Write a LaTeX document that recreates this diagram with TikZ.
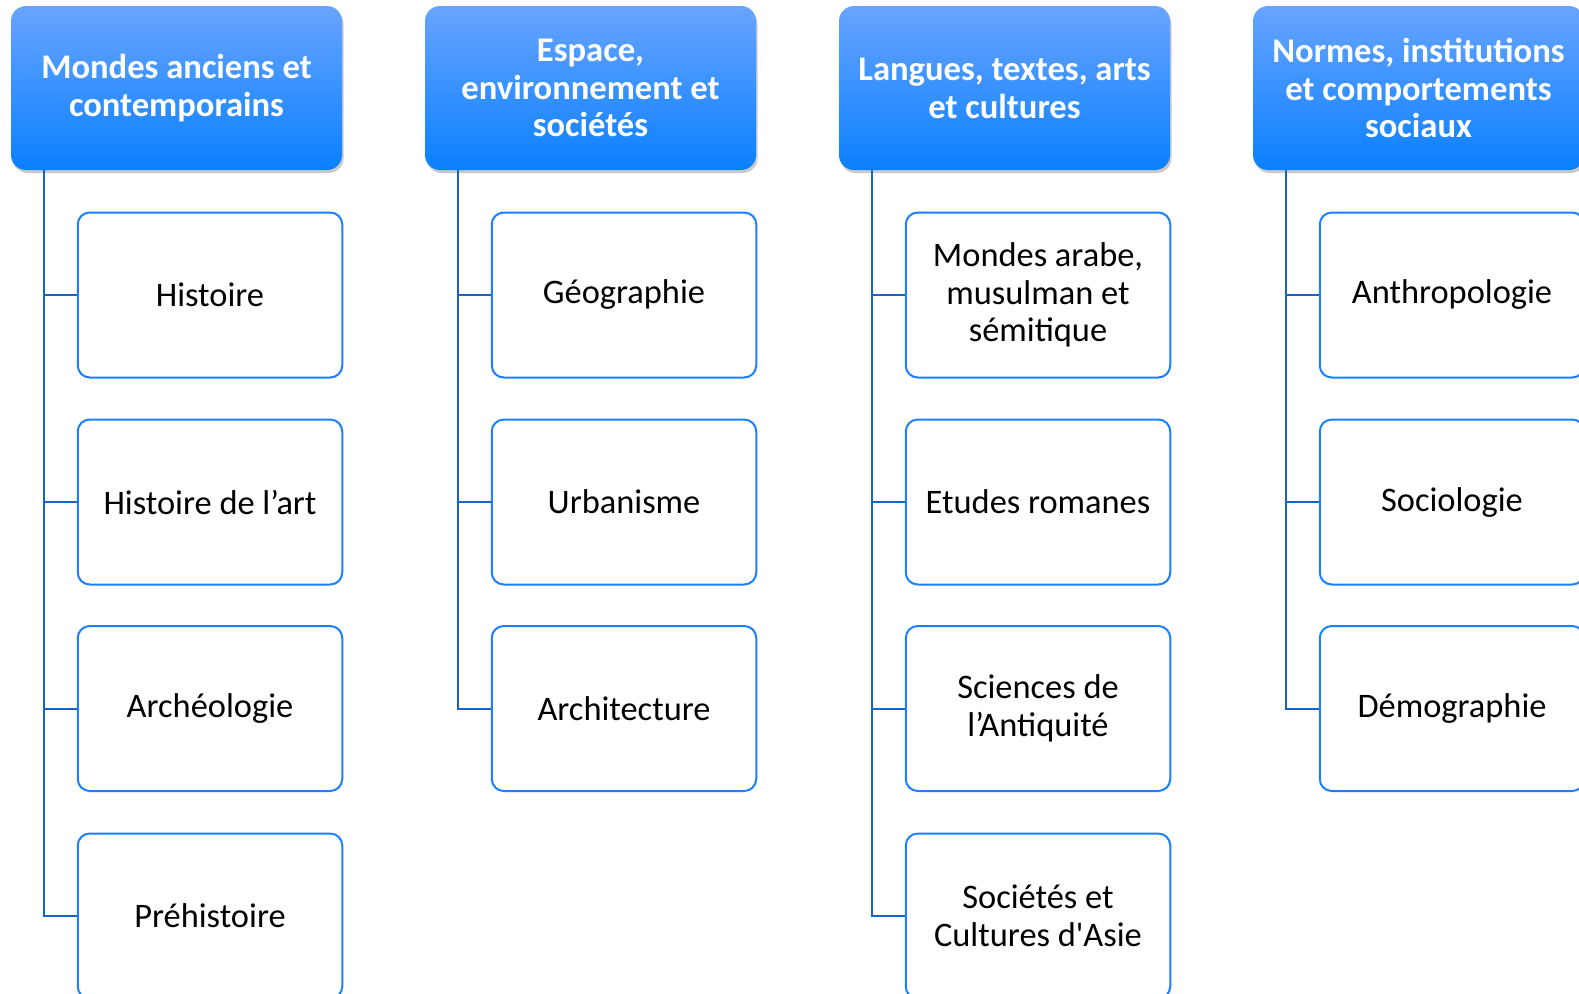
\documentclass[tikz,border=0pt]{standalone}
\usepackage{fontspec}
\setmainfont{Carlito}[Ligatures=TeXOff]
\usetikzlibrary{shadows,calc}
\definecolor{htop}{RGB}{104,164,255}
\definecolor{hbot}{RGB}{10,128,255}
\definecolor{cborder}{RGB}{26,128,255}
\definecolor{conncol}{RGB}{22,100,200}
\tikzset{
  head/.style={rounded corners=7.5pt, top color=htop, bottom color=hbot, draw=none,
    minimum width=165.5pt, minimum height=82pt, inner sep=0pt, align=center,
    text=white, font=\fontsize{17.3}{18.9}\selectfont\bfseries,
    drop shadow={opacity=0.3, shadow xshift=0.8pt, shadow yshift=-1.5pt, fill=black!70}},
  child/.style={rounded corners=6pt, draw=cborder, line width=1pt, fill=white,
    minimum width=132.25pt, minimum height=82.5pt, inner sep=0pt, align=center,
    font=\fontsize{17.2}{18.9}\selectfont},
  conn/.style={draw=conncol, line width=1pt}
}
\begin{document}
\begin{tikzpicture}[x=0.5pt,y=-0.5pt]
\useasboundingbox (0,0) rectangle (1579,993);
% headers
\node[head] (h1) at (176.5,88) {Mondes anciens et\\contemporains};
\node[head] (h2) at (590.5,88) {Espace,\\environnement et\\sociétés};
\node[head] (h3) at (1004.5,88) {Langues, textes, arts\\et cultures};
\node[head] (h4) at (1418.5,88) {Normes, institutions\\et comportements\\sociaux};
% children column 1
\node[child] (c11) at (210,295) {Histoire};
\node[child] (c12) at (210,502) {Histoire de l’art};
\node[child] (c13) at (210,708.5) {Archéologie};
\node[child] (c14) at (210,916) {Préhistoire};
% column 2
\node[child] (c21) at (624,295) {Géographie};
\node[child] (c22) at (624,502) {Urbanisme};
\node[child] (c23) at (624,708.5) {Architecture};
% column 3
\node[child] (c31) at (1038,295) {Mondes arabe,\\musulman et\\sémitique};
\node[child] (c32) at (1038,502) {Etudes romanes};
\node[child] (c33) at (1038,708.5) {Sciences de\\l’Antiquité};
\node[child] (c34) at (1038,916) {Sociétés et\\Cultures d'Asie};
% column 4
\node[child] (c41) at (1452,295) {Anthropologie};
\node[child] (c42) at (1452,502) {Sociologie};
\node[child] (c43) at (1452,708.5) {Démographie};
% trunk coordinates
\coordinate (t1) at ($(h1.south west)+(33,0)$);
\coordinate (t2) at ($(h2.south west)+(33,0)$);
\coordinate (t3) at ($(h3.south west)+(33,0)$);
\coordinate (t4) at ($(h4.south west)+(33,0)$);
% connectors
\draw[conn] (t1) |- (c14.west);
\draw[conn] (t1 |- c11.west) -- (c11.west);
\draw[conn] (t1 |- c12.west) -- (c12.west);
\draw[conn] (t1 |- c13.west) -- (c13.west);
\draw[conn] (t2) |- (c23.west);
\draw[conn] (t2 |- c21.west) -- (c21.west);
\draw[conn] (t2 |- c22.west) -- (c22.west);
\draw[conn] (t3) |- (c34.west);
\draw[conn] (t3 |- c31.west) -- (c31.west);
\draw[conn] (t3 |- c32.west) -- (c32.west);
\draw[conn] (t3 |- c33.west) -- (c33.west);
\draw[conn] (t4) |- (c43.west);
\draw[conn] (t4 |- c41.west) -- (c41.west);
\draw[conn] (t4 |- c42.west) -- (c42.west);
\end{tikzpicture}
\end{document}
